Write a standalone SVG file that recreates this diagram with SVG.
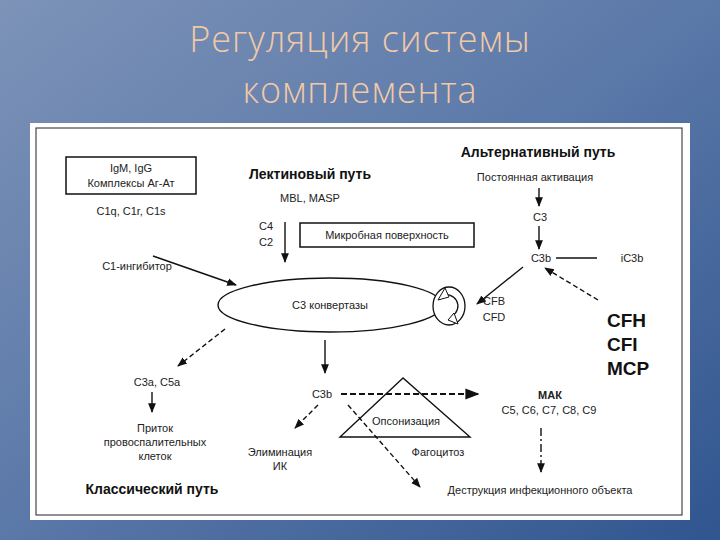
<svg xmlns="http://www.w3.org/2000/svg" width="720" height="540" viewBox="0 0 720 540">
<defs>
<linearGradient id="bg" x1="0" y1="0" x2="1" y2="1">
<stop offset="0" stop-color="#7d93b8"/><stop offset="0.5" stop-color="#5a78a8"/><stop offset="1" stop-color="#30558f"/>
</linearGradient>
<marker id="a" viewBox="0 0 10 10" refX="9" refY="5" markerWidth="7" markerHeight="7" orient="auto"><path d="M0,1 L10,5 L0,9 Z" fill="#111"/></marker>
<style>
text{font-family:"Liberation Sans",Arial,sans-serif;font-size:11px;fill:#222;text-anchor:middle}
.b{font-weight:bold;font-size:14px;fill:#111}
.big{font-weight:bold;font-size:19px;text-anchor:start;fill:#111}
.t{font-family:"Open Sans","DejaVu Sans",sans-serif;font-size:36px;font-weight:300;fill:#f2c9a6;letter-spacing:1px}
.l{stroke:#111;stroke-width:1.4;fill:none}
.d{stroke:#111;stroke-width:1.4;fill:none;stroke-dasharray:5,3}
.k{stroke:#111;stroke-width:2;fill:none;stroke-dasharray:6,3}
</style>
</defs>
<rect width="720" height="540" fill="url(#bg)"/>
<text class="t" x="360" y="52">Регуляция системы</text>
<text class="t" x="360" y="103">комплемента</text>
<rect x="30" y="123" width="660" height="397" fill="#fff"/>
<rect x="36" y="128" width="646" height="387" fill="none" stroke="#222" stroke-width="1"/>
<g id="connectors">
<line class="l" x1="153" y1="256" x2="236" y2="285" marker-end="url(#a)"/>
<line class="l" x1="285" y1="222" x2="285" y2="262" marker-end="url(#a)"/>
<line class="l" x1="539" y1="188" x2="539" y2="206" marker-end="url(#a)"/>
<line class="l" x1="539" y1="226" x2="539" y2="249" marker-end="url(#a)"/>
<line class="l" x1="556" y1="258" x2="597" y2="258"/>
<line class="l" x1="523" y1="267" x2="477" y2="304" marker-end="url(#a)"/>
<line class="d" x1="598" y1="300" x2="545" y2="268" marker-end="url(#a)"/>
<line class="d" x1="225" y1="329" x2="178" y2="366" marker-end="url(#a)"/>
<line class="l" x1="152" y1="392" x2="152" y2="412" marker-end="url(#a)" stroke-width="2"/>
<line class="l" x1="325" y1="340" x2="325" y2="373" marker-end="url(#a)" stroke-width="2"/>
<line class="k" x1="341" y1="394" x2="478" y2="394" marker-end="url(#a)"/>
<line class="d" x1="318" y1="405" x2="295" y2="428" marker-end="url(#a)"/>
<line class="d" x1="348" y1="405" x2="420" y2="487" marker-end="url(#a)"/>
<line class="l" x1="541" y1="428" x2="541" y2="472" stroke-dasharray="8,3,2,3" marker-end="url(#a)"/>
</g>
<g id="classic">
<rect x="66" y="157" width="130" height="37" fill="none" stroke="#111" stroke-width="1.5"/>
<text x="131" y="172">IgM, IgG</text><text x="131" y="187">Комплексы Аг-Ат</text>
<text x="131" y="215">C1q, C1r, C1s</text>
<text x="137" y="270">C1-ингибитор</text>
<text class="b" x="152" y="494">Классический путь</text>
</g>
<g id="lectin">
<text class="b" x="310" y="179">Лектиновый путь</text>
<text x="310" y="202">MBL, MASP</text>
<text x="266" y="230">C4</text><text x="266" y="246">C2</text>
<rect x="300" y="223" width="174" height="24" fill="none" stroke="#111" stroke-width="1.5"/>
<text x="387" y="239">Микробная поверхность</text>
</g>
<g id="alt">
<text class="b" x="538" y="157">Альтернативный путь</text>
<text x="535" y="181">Постоянная активация</text>
<text x="540" y="221">C3</text>
<text x="541" y="262">C3b</text>
<text x="632" y="262">iC3b</text>
<text x="494" y="305">CFB</text><text x="494" y="321">CFD</text>
<text class="big" x="607" y="327">CFH</text><text class="big" x="607" y="351">CFI</text><text class="big" x="607" y="375">MCP</text>
</g>
<g id="convertase">
<ellipse cx="330" cy="305" rx="112" ry="27" fill="#fff" stroke="#111" stroke-width="1.4"/>
<text x="330" y="309">C3 конвертазы</text>
<ellipse cx="449" cy="306" rx="16" ry="19" fill="#fff" stroke="#111" stroke-width="1.3"/>
<path d="M441,296 A11,11 0 1 1 452,316" fill="none" stroke="#111" stroke-width="1.3"/>
<path d="M438,300 L445,288 L449,297 Z M448,320 L458,324 L454,313 Z" fill="#fff" stroke="#111"/>
</g>
<g id="effects">
<text x="157" y="386">C3a, C5a</text>
<text x="155" y="432">Приток</text><text x="155" y="446">провоспалительных</text><text x="155" y="460">клеток</text>
<text x="322" y="398">C3b</text>
<polygon points="403,378 340,437 470,437" fill="none" stroke="#111" stroke-width="1.4"/>
<text x="406" y="425">Опсонизация</text>
<text x="280" y="456">Элиминация</text><text x="280" y="470">ИК</text>
<text x="438" y="456">Фагоцитоз</text>
<text x="550" y="399" font-weight="bold" font-size="12">МАК</text>
<text x="549" y="414">C5, C6, C7, C8, C9</text>
<text x="540" y="494">Деструкция инфекционного объекта</text>
</g>
</svg>
